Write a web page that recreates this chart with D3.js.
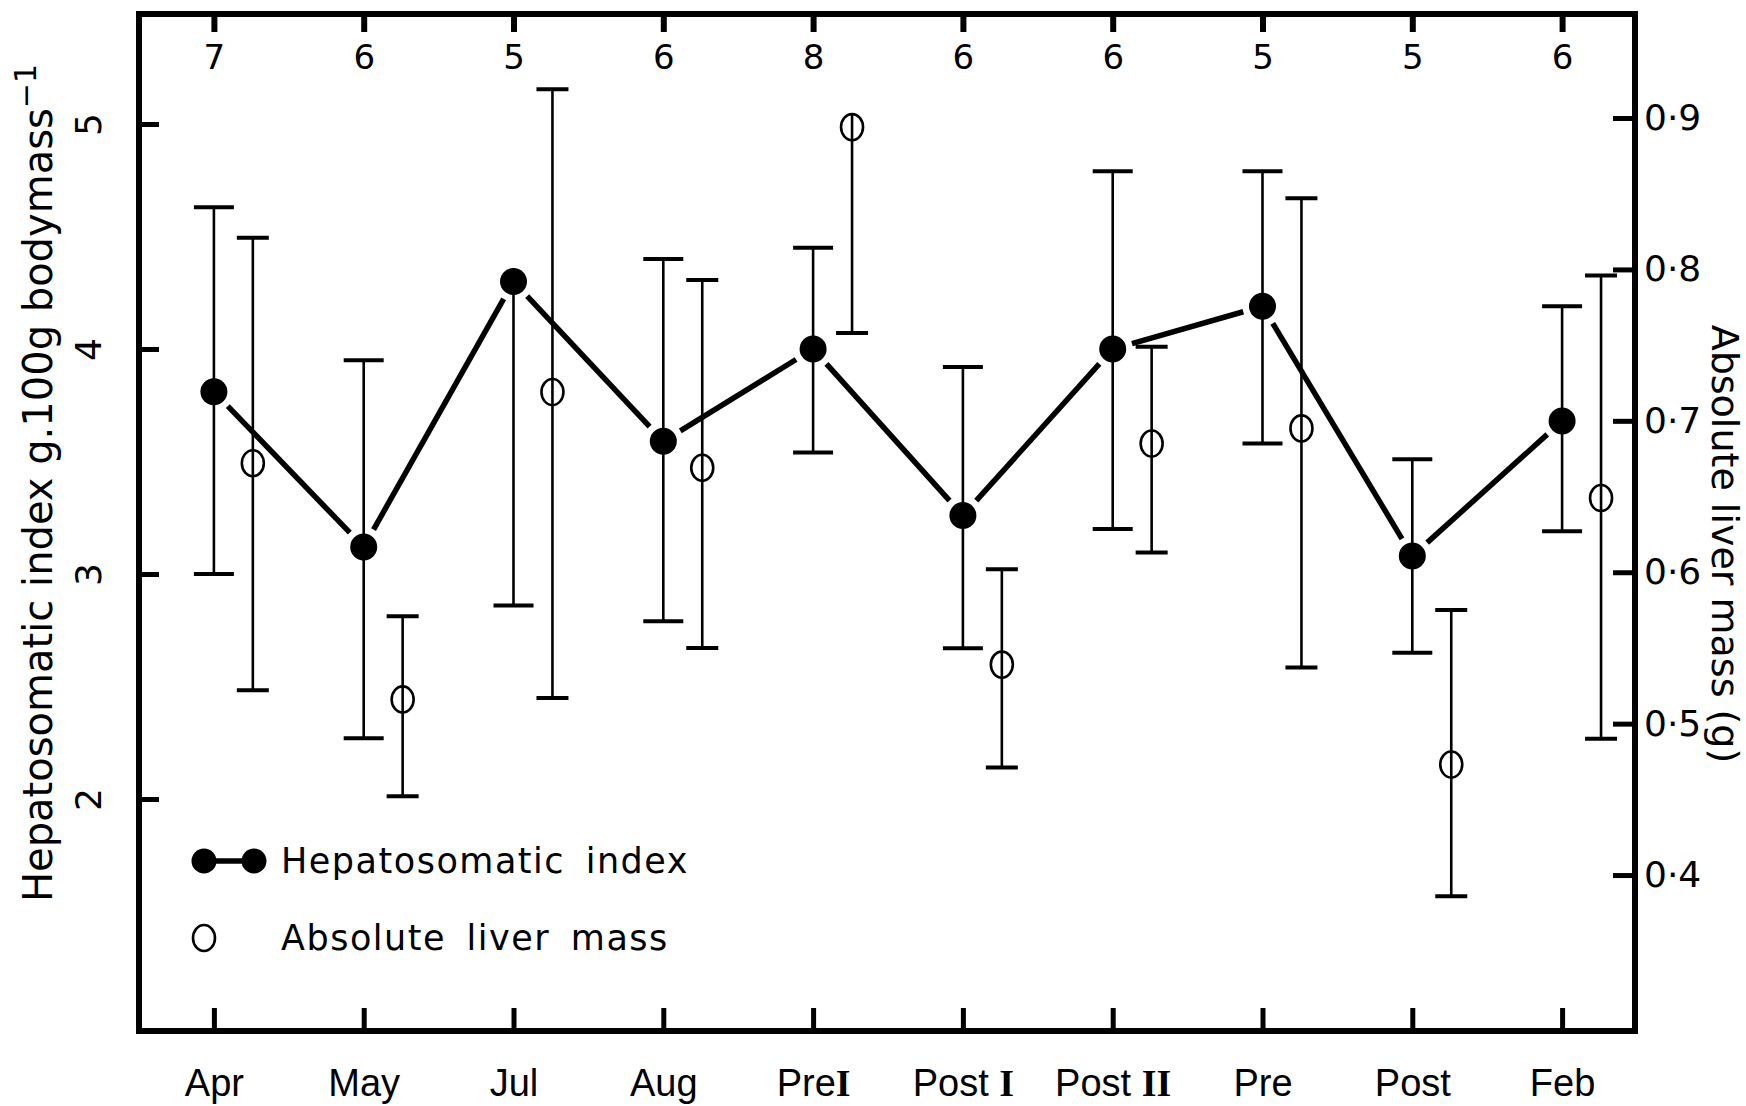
<!DOCTYPE html>
<html>
<head>
<meta charset="utf-8">
<script src="https://cdn.jsdelivr.net/npm/d3@7/dist/d3.min.js"></script>
<style>
  html, body { margin: 0; padding: 0; background: #fff; }
  svg { display: block; }
  .tick line { stroke: #000; }
</style>
</head>
<body>
<svg id="chart" width="1746" height="1106"></svg>
<script>
// Sampling periods (x axis) and their printed labels; a trailing Roman numeral is set in a serif face
const categories = ["Apr", "May", "Jul", "Aug", "PreI", "PostI", "PostII", "Pre", "Post", "Feb"];
const categoryLabels = [["Apr", ""], ["May", ""], ["Jul", ""], ["Aug", ""], ["Pre", "I"],
                        ["Post ", "I"], ["Post ", "II"], ["Pre", ""], ["Post", ""], ["Feb", ""]];

// Number of fish sampled in each period (printed along the top)
const sampleSizes = [7, 6, 5, 6, 8, 6, 6, 5, 5, 6];

// Hepatosomatic index, g.100g bodymass^-1 (mean with the drawn ends of the error bars)
const hsiMean  = [3.81, 3.12, 4.30, 3.59, 4.00, 3.26, 4.00, 4.19, 3.08, 3.68];
const hsiUpper = [4.63, 3.95, null, 4.40, 4.45, 3.92, 4.79, 4.79, 3.51, 4.19];
const hsiLower = [3.00, 2.27, 2.86, 2.79, 3.54, 2.67, 3.20, 3.58, 2.65, 3.19];

// Absolute liver mass, g (mean with the drawn ends of the error bars)
const almMean  = [0.672, 0.516, 0.719, 0.669, 0.894, 0.539, 0.685, 0.695, 0.473, 0.649];
const almUpper = [0.821, 0.571, 0.919, 0.793, null,  0.602, 0.749, 0.847, 0.575, 0.796];
const almLower = [0.522, 0.452, 0.517, 0.550, 0.758, 0.471, 0.613, 0.537, 0.386, 0.490];

// Axis ticks
const hsiTicks = [2, 3, 4, 5];
const almTicks = [0.4, 0.5, 0.6, 0.7, 0.8, 0.9];

// ---- layout ----
const frame = { left: 139, right: 1635, top: 14, bottom: 1031 };
const svg = d3.select("#chart");
const FONT = "'DejaVu Sans', 'Liberation Sans', sans-serif";

const x = d3.scalePoint().domain(categories).range([frame.left, frame.right + 2]).padding(0.5);
const yL = d3.scaleLinear().domain([0.969, 5.489]).range([frame.bottom, frame.top]);
const yR = d3.scaleLinear().domain([0.297, 0.9687]).range([frame.bottom, frame.top]);
const almShift = x.step() * 0.26;   // open symbols sit just right of each period

// ---- axes (ticks point inward) ----
const leftAxis = svg.append("g").attr("transform", `translate(${frame.left},0)`)
  .call(d3.axisLeft(yL).tickValues(hsiTicks).tickSizeInner(-20).tickSizeOuter(0)
        .tickPadding(38).tickFormat(d3.format("d")));
leftAxis.select(".domain").remove();
leftAxis.selectAll(".tick line").attr("stroke-width", 5);
leftAxis.selectAll(".tick text")
  .attr("x", null).attr("dy", null)
  .attr("transform", "translate(-38,0) rotate(-90)")
  .attr("text-anchor", "middle")
  .attr("font-family", FONT).attr("font-size", 36).attr("fill", "#000");

const rightAxis = svg.append("g").attr("transform", `translate(${frame.right},0)`)
  .call(d3.axisRight(yR).tickValues(almTicks).tickSizeInner(-22).tickSizeOuter(0)
        .tickPadding(9).tickFormat(d => d.toFixed(1).replace(".", "·")));
rightAxis.select(".domain").remove();
rightAxis.selectAll(".tick line").attr("stroke-width", 5);
rightAxis.selectAll(".tick text")
  .attr("font-family", FONT).attr("font-size", 36).attr("fill", "#000");

const bottomAxis = svg.append("g").attr("transform", `translate(0,${frame.bottom})`)
  .call(d3.axisBottom(x).tickSizeInner(-23).tickSizeOuter(0).tickPadding(38));
bottomAxis.select(".domain").remove();
bottomAxis.selectAll(".tick line").attr("stroke-width", 5);
bottomAxis.selectAll(".tick text")
  .attr("font-family", "'Liberation Sans', Arial, sans-serif").attr("font-size", 38)
  .attr("fill", "#000")
  .each(function (d, i) {
    const t = d3.select(this).text(null);
    t.append("tspan").text(categoryLabels[i][0]);
    if (categoryLabels[i][1]) {
      t.append("tspan").attr("font-family", "'Liberation Serif', serif")
        .attr("font-weight", "bold").text(categoryLabels[i][1]);
    }
  });

const topAxis = svg.append("g").attr("transform", `translate(0,${frame.top})`)
  .call(d3.axisTop(x).tickSizeInner(-18).tickSizeOuter(0)
        .tickFormat((d, i) => sampleSizes[i]));
topAxis.select(".domain").remove();
topAxis.selectAll(".tick line").attr("stroke-width", 6);
topAxis.selectAll(".tick text")
  .attr("y", 55).attr("dy", null)
  .attr("font-family", FONT).attr("font-size", 34).attr("fill", "#000");

// plot frame
svg.append("rect")
  .attr("x", frame.left).attr("y", frame.top)
  .attr("width", frame.right - frame.left).attr("height", frame.bottom - frame.top)
  .attr("fill", "none").attr("stroke", "#000").attr("stroke-width", 6);

// ---- axis titles ----
const leftTitle = svg.append("text")
  .attr("transform", "translate(52,902) rotate(-90)")
  .attr("font-family", FONT).attr("font-size", 40).attr("fill", "#000");
leftTitle.append("tspan").text("Hepatosomatic index g.100g bodymass");
leftTitle.append("tspan").attr("dy", -16).attr("font-size", 30).text("−1");

svg.append("text")
  .attr("transform", "translate(1712,544) rotate(90)")
  .attr("text-anchor", "middle")
  .attr("font-family", FONT).attr("font-size", 38).attr("fill", "#000")
  .text("Absolute liver mass (g)");

// ---- hepatosomatic index: connecting line, broken short of each dot ----
const hsiPts = categories.map((c, i) => [x(c), yL(hsiMean[i])]);
const gap = 20;
const segs = d3.pairs(hsiPts).map(([a, b]) => {
  const dx = b[0] - a[0], dy = b[1] - a[1], len = Math.hypot(dx, dy);
  const ux = dx / len, uy = dy / len;
  return [a[0] + ux * gap, a[1] + uy * gap, b[0] - ux * gap, b[1] - uy * gap];
});
svg.append("g").selectAll("line").data(segs).join("line")
  .attr("x1", d => d[0]).attr("y1", d => d[1]).attr("x2", d => d[2]).attr("y2", d => d[3])
  .attr("stroke", "#000").attr("stroke-width", 5.5);

// error bars
function errorBars(cls, xs, mean, upper, lower, y, capHalf, symbolHalf) {
  const g = svg.append("g").attr("class", cls);
  const idx = d3.range(mean.length);
  g.selectAll("line.stem").data(idx).join("line").attr("class", "stem")
    .attr("x1", i => xs(i)).attr("x2", i => xs(i))
    .attr("y1", i => upper[i] != null ? y(upper[i]) : y(mean[i]) - symbolHalf)
    .attr("y2", i => lower[i] != null ? y(lower[i]) : y(mean[i]) + symbolHalf)
    .attr("stroke", "#000").attr("stroke-width", 2.6);
  const caps = [];
  idx.forEach(i => {
    if (upper[i] != null) caps.push([i, upper[i]]);
    if (lower[i] != null) caps.push([i, lower[i]]);
  });
  g.selectAll("line.cap").data(caps).join("line").attr("class", "cap")
    .attr("x1", d => xs(d[0]) - capHalf).attr("x2", d => xs(d[0]) + capHalf)
    .attr("y1", d => y(d[1])).attr("y2", d => y(d[1]))
    .attr("stroke", "#000").attr("stroke-width", 4);
}
errorBars("hsi-err", i => x(categories[i]), hsiMean, hsiUpper, hsiLower, yL, 20, 13);
errorBars("alm-err", i => x(categories[i]) + almShift, almMean, almUpper, almLower, yR, 16, 13);

// symbols
svg.append("g").selectAll("ellipse").data(categories).join("ellipse")
  .attr("cx", (c, i) => x(c) + almShift).attr("cy", (c, i) => yR(almMean[i]))
  .attr("rx", 11).attr("ry", 13)
  .attr("fill", "none").attr("stroke", "#000").attr("stroke-width", 2.6);
svg.append("g").selectAll("circle").data(hsiPts).join("circle")
  .attr("cx", d => d[0]).attr("cy", d => d[1]).attr("r", 13.5).attr("fill", "#000");

// ---- legend ----
const lg = svg.append("g").attr("font-family", FONT).attr("font-size", 35).attr("fill", "#000");
lg.append("line").attr("x1", 204).attr("x2", 254).attr("y1", 861).attr("y2", 861)
  .attr("stroke", "#000").attr("stroke-width", 5.5);
lg.selectAll("circle.k").data([204, 254]).join("circle").attr("class", "k")
  .attr("cx", d => d).attr("cy", 861).attr("r", 12.5).attr("fill", "#000");
lg.append("text").attr("x", 281).attr("y", 873)
  .attr("letter-spacing", 1.5).attr("word-spacing", 8).text("Hepatosomatic index");
lg.append("ellipse").attr("cx", 204).attr("cy", 938).attr("rx", 11).attr("ry", 13)
  .attr("fill", "none").attr("stroke", "#000").attr("stroke-width", 2.6);
lg.append("text").attr("x", 281).attr("y", 950)
  .attr("letter-spacing", 1.5).attr("word-spacing", 8).text("Absolute liver mass");
</script>
</body>
</html>
